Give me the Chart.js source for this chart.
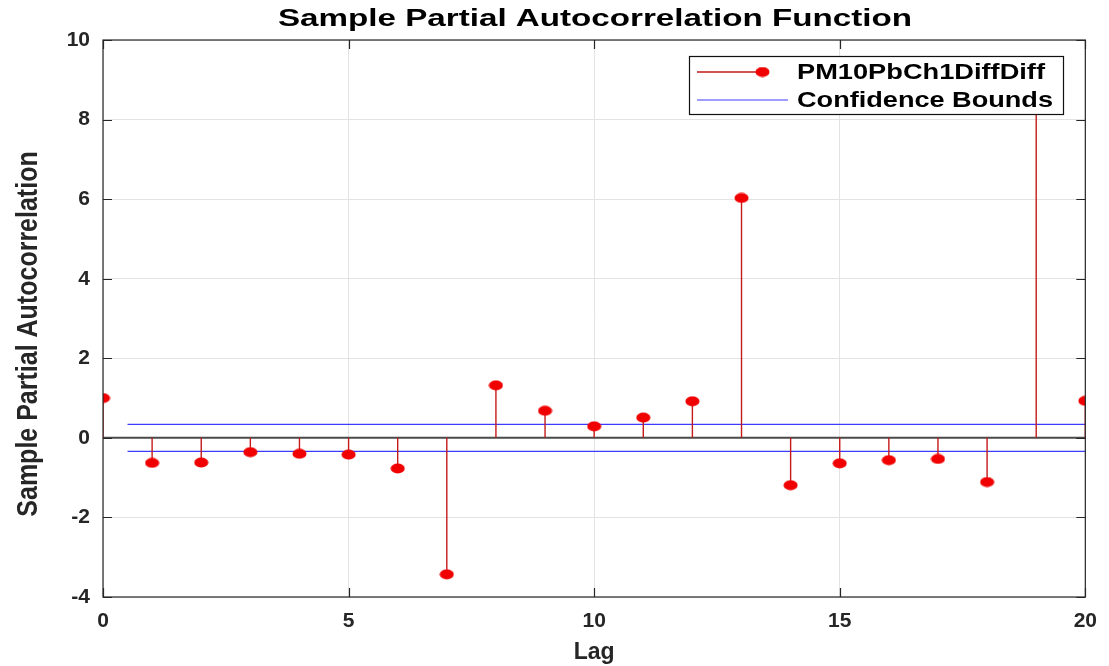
<!DOCTYPE html>
<html>
<head>
<meta charset="utf-8">
<script src="https://cdn.jsdelivr.net/npm/chart.js@4.4.1/dist/chart.umd.min.js"></script>
<style>
  html, body { margin: 0; padding: 0; background: #fff; }
  #wrap { width: 1109px; height: 666px; position: relative; }
</style>
</head>
<body>
<div id="wrap"><canvas id="pacfChart"></canvas></div>
<script>
// data
const lags = [0, 1, 2, 3, 4, 5, 6, 7, 8, 9, 10, 11, 12, 13, 14, 15, 16, 17, 18, 19, 20];
const pacf = [1.0, -0.63, -0.62, -0.36, -0.40, -0.42, -0.77, -3.43, 1.32, 0.68, 0.29,
              0.51, 0.92, 6.03, -1.19, -0.64, -0.56, -0.53, -1.11, 9.0, 0.93];
const boundLags = [0.5, 20];
const boundValue = 0.34;
const seriesName = 'PM10PbCh1DiffDiff';
const boundsName = 'Confidence Bounds';

const fontFamily = '"Liberation Sans", Arial, sans-serif';
const axisColor = '#262626';
const gridColor = '#e3e3e3';
const stemColor = '#c41a1a';
const markerColor = '#f00000';
const boundColor = '#3c3cff';

function makeMarker() {
  const c = document.createElement('canvas');
  c.width = 15; c.height = 11;
  const g = c.getContext('2d');
  g.fillStyle = markerColor;
  g.beginPath();
  g.ellipse(7.5, 5.5, 7, 5, 0, 0, Math.PI * 2);
  g.fill();
  return c;
}
const marker = makeMarker();

// stems: (lag,0) -> (lag,value), gap between
const stemData = lags.flatMap((l, i) => [{ x: l, y: 0 }, { x: l, y: pacf[i] }, { x: l, y: null }]);
const pointData = lags.map((l, i) => ({ x: l, y: pacf[i] }));
const upperData = boundLags.map(l => ({ x: l, y: boundValue }));
const lowerData = boundLags.map(l => ({ x: l, y: -boundValue }));
const zeroData = [{ x: lags[0], y: 0 }, { x: lags[lags.length - 1], y: 0 }];

function fitText(ctx, text, x, y, width, font, align) {
  ctx.save();
  ctx.font = font;
  const w = ctx.measureText(text).width;
  const sx = width / w;
  ctx.translate(x, y);
  ctx.scale(sx, 1);
  ctx.textBaseline = 'middle';
  ctx.textAlign = align;
  ctx.fillStyle = '#000';
  ctx.fillText(text, 0, 0);
  ctx.restore();
}

const framePlugin = {
  id: 'frame',
  afterDatasetsDraw(chart) {
    const { ctx, chartArea: a, scales } = chart;
    ctx.save();
    // box
    ctx.strokeStyle = axisColor;
    ctx.lineWidth = 1.2;
    ctx.strokeRect(a.left, a.top, a.right - a.left, a.bottom - a.top);
    // inward ticks
    ctx.beginPath();
    scales.x.ticks.forEach(t => {
      const px = Math.round(scales.x.getPixelForValue(t.value)) + 0.5;
      ctx.moveTo(px, a.bottom); ctx.lineTo(px, a.bottom - 9);
      ctx.moveTo(px, a.top); ctx.lineTo(px, a.top + 9);
    });
    scales.y.ticks.forEach(t => {
      const py = Math.round(scales.y.getPixelForValue(t.value)) + 0.5;
      ctx.moveTo(a.left, py); ctx.lineTo(a.left + 9, py);
      ctx.moveTo(a.right, py); ctx.lineTo(a.right - 9, py);
    });
    ctx.stroke();

    // legend box
    const lx = 689, ly = 56, lw = 374, lh = 58;
    ctx.fillStyle = '#fff';
    ctx.fillRect(lx, ly, lw, lh);
    ctx.strokeStyle = '#111';
    ctx.lineWidth = 1.2;
    ctx.strokeRect(lx + 0.5, ly + 0.5, lw, lh);

    const r1 = ly + 16, r2 = ly + 44;
    ctx.strokeStyle = stemColor;
    ctx.lineWidth = 1.3;
    ctx.beginPath(); ctx.moveTo(lx + 8, r1); ctx.lineTo(lx + 72, r1); ctx.stroke();
    ctx.drawImage(marker, lx + 66, r1 - 5.5);
    ctx.strokeStyle = boundColor;
    ctx.lineWidth = 1;
    ctx.beginPath(); ctx.moveTo(lx + 8, r2); ctx.lineTo(lx + 99, r2); ctx.stroke();
    ctx.restore();

    fitText(ctx, seriesName, lx + 108, r1 + 1, 248, 'bold 22px ' + fontFamily, 'left');
    fitText(ctx, boundsName, lx + 108, r2 + 1, 256, 'bold 22px ' + fontFamily, 'left');
  },
  afterDraw(chart) {
    const ctx = chart.ctx;
    fitText(ctx, 'Sample Partial Autocorrelation Function', 595, 20, 634,
      'bold 23px ' + fontFamily, 'center');
    // y axis title, rotated
    ctx.save();
    ctx.translate(29, 334);
    ctx.rotate(-Math.PI / 2);
    ctx.scale(1, 1.15);
    ctx.font = 'bold 25px ' + fontFamily;
    ctx.textAlign = 'center';
    ctx.textBaseline = 'middle';
    ctx.fillStyle = axisColor;
    ctx.fillText('Sample Partial Autocorrelation', 0, 0);
    ctx.restore();
  }
};

new Chart(document.getElementById('pacfChart'), {
  type: 'line',
  data: {
    datasets: [
      {
        label: 'zero',
        data: zeroData,
        borderColor: '#4a4a4a',
        borderWidth: 2,
        pointRadius: 0,
        order: 5
      },
      {
        label: boundsName,
        data: upperData,
        borderColor: boundColor,
        borderWidth: 1.2,
        pointRadius: 0,
        order: 4
      },
      {
        label: boundsName + ' (lower)',
        data: lowerData,
        borderColor: boundColor,
        borderWidth: 1.2,
        pointRadius: 0,
        order: 4
      },
      {
        label: seriesName + ' stems',
        data: stemData,
        borderColor: stemColor,
        borderWidth: 1.4,
        pointRadius: 0,
        spanGaps: false,
        order: 2
      },
      {
        label: seriesName,
        data: pointData,
        showLine: false,
        pointStyle: marker,
        pointRadius: 6,
        order: 1
      }
    ]
  },
  options: {
    responsive: true,
    maintainAspectRatio: false,
    animation: false,
    layout: { padding: { top: 40, right: 22, left: 0, bottom: 0 } },
    scales: {
      x: {
        type: 'linear',
        min: 0,
        max: 20,
        ticks: {
          stepSize: 5,
          color: axisColor,
          padding: 12,
          font: { family: fontFamily, size: 21, weight: 'bold' }
        },
        grid: { color: gridColor, drawTicks: false },
        border: { display: false },
        title: {
          display: true,
          text: 'Lag',
          color: axisColor,
          padding: { top: 2, bottom: 0 },
          font: { family: fontFamily, size: 23, weight: 'bold' }
        },
        afterFit(scale) { scale.height = 69; }
      },
      y: {
        min: -4,
        max: 10,
        ticks: {
          stepSize: 2,
          color: axisColor,
          padding: 13,
          font: { family: fontFamily, size: 21, weight: 'bold' }
        },
        grid: { color: gridColor, drawTicks: false },
        border: { display: false },
        afterFit(scale) { scale.width = 103; }
      }
    },
    plugins: {
      legend: { display: false },
      title: { display: false },
      tooltip: { enabled: false }
    }
  },
  plugins: [framePlugin]
});
</script>
</body>
</html>
